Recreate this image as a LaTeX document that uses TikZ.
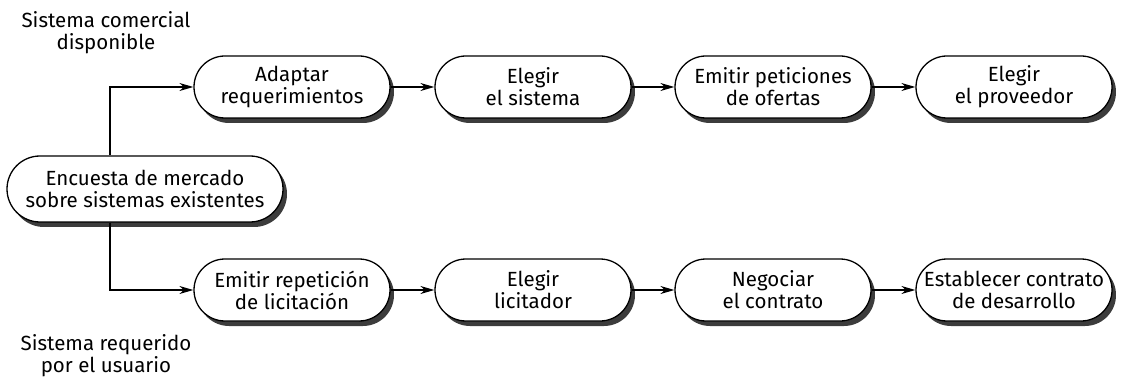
\documentclass[tikz,border=0pt]{standalone}
\usepackage{fontspec}
\setmainfont{Fira Sans}
\usetikzlibrary{arrows.meta}
\definecolor{shadowc}{RGB}{60,60,60}
\begin{document}
\begin{tikzpicture}[x=1pt,y=-1pt,
  proc/.style={draw=black, line width=1.3pt, rounded corners=31pt,
    minimum width=196pt, minimum height=62pt, align=center, inner sep=0pt,
    font=\fontsize{20.5}{22}\selectfont},
  lbl/.style={align=center, font=\fontsize{20.5}{22}\selectfont, inner sep=0pt},
  arr/.style={line width=1.2pt, -{Stealth[length=14pt,width=8pt]}}]
\useasboundingbox (0,0) rectangle (1123,379);
% drop shadows and white backgrounds of the boxes (polygonal stadiums)
\foreach \cx/\cy/\w/\h in {292/87/196/62,533/87/196/62,773/87/196/62,1014/87/196/62,
    292/290/196/62,533/290/196/62,773/290/196/62,1014/290/196/62,145/189/276/66}{
  \fill[shadowc] plot[variable=\t,domain=-90:90,samples=40]
      ({\cx+4+\w/2-\h/2+\h/2*cos(\t)},{\cy+5+\h/2*sin(\t)})
    -- plot[variable=\t,domain=90:270,samples=40]
      ({\cx+4-\w/2+\h/2+\h/2*cos(\t)},{\cy+5+\h/2*sin(\t)}) -- cycle;
  \fill[white] plot[variable=\t,domain=-90:90,samples=40]
      ({\cx+\w/2-\h/2+\h/2*cos(\t)},{\cy+\h/2*sin(\t)})
    -- plot[variable=\t,domain=90:270,samples=40]
      ({\cx-\w/2+\h/2+\h/2*cos(\t)},{\cy+\h/2*sin(\t)}) -- cycle;
}
\node[proc] (a1) at (292,87) {Adaptar\\requerimientos};
\node[proc] (a2) at (533,87) {Elegir\\el sistema};
\node[proc] (a3) at (773,87) {Emitir peticiones\\de ofertas};
\node[proc] (a4) at (1014,87) {Elegir\\el proveedor};
\node[proc] (b1) at (292,290) {Emitir repetición\\de licitación};
\node[proc] (b2) at (533,290) {Elegir\\licitador};
\node[proc] (b3) at (773,290) {Negociar\\el contrato};
\node[proc] (b4) at (1014,290) {Establecer contrato\\de desarrollo};
\node[proc, minimum width=276pt, minimum height=66pt, rounded corners=33pt] (enc) at (145,189) {Encuesta de mercado\\sobre sistemas existentes};
\node[lbl] (t1) at (106,33) {Sistema comercial\\disponible};
\node[lbl] (t2) at (106,356) {Sistema requerido\\por el usuario};
\coordinate (vx) at (110,0);
\draw[arr] (enc.north -| vx) |- (a1.west);
\draw[arr] (enc.south -| vx) |- (b1.west);
\draw[arr] (a1) -- (a2);
\draw[arr] (a2) -- (a3);
\draw[arr] (a3) -- (a4);
\draw[arr] (b1) -- (b2);
\draw[arr] (b2) -- (b3);
\draw[arr] (b3) -- (b4);
\end{tikzpicture}
\end{document}
